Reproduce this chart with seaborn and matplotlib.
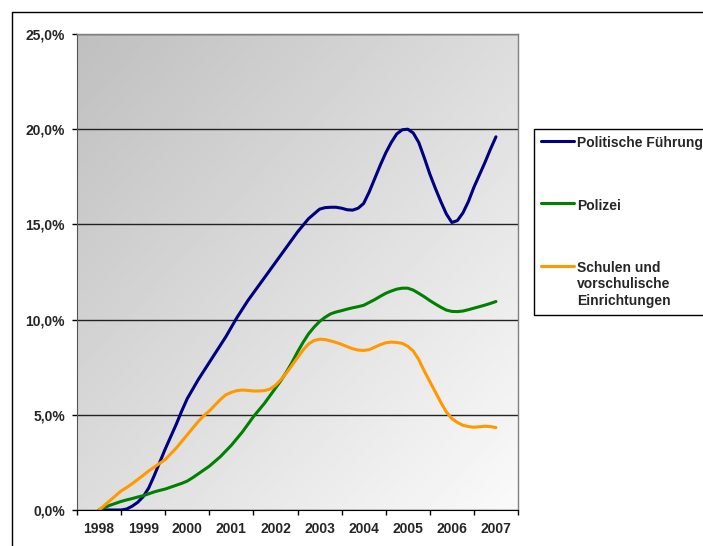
import numpy as np
import pandas as pd
import matplotlib
matplotlib.use("Agg")
import matplotlib.pyplot as plt
from matplotlib.lines import Line2D
from matplotlib.ticker import FixedLocator, FuncFormatter, NullFormatter
import seaborn as sns

# readings every 1/8 year, 1998.000 ... 2007.000 (share in %)
steps = np.arange(1998, 2007.001, 0.125)
year_labels = ["1998", "1999", "2000", "2001", "2002",
               "2003", "2004", "2005", "2006", "2007"]

politische_fuehrung = [
    0.0, 0.0, 0.0, 0.0, 0.0, 0.05, 0.2, 0.4,            # 1998
    0.7, 1.15, 1.8, 2.5, 3.2, 3.85, 4.5, 5.2,           # 1999
    5.85, 6.35, 6.85, 7.3, 7.75, 8.2, 8.65, 9.1,        # 2000
    9.6, 10.1, 10.55, 11.0, 11.4, 11.8, 12.2, 12.6,     # 2001
    13.0, 13.4, 13.8, 14.2, 14.6, 14.95, 15.3, 15.55,   # 2002
    15.8, 15.88, 15.9, 15.9, 15.85, 15.77, 15.75, 15.85,  # 2003
    16.1, 16.7, 17.4, 18.1, 18.75, 19.3, 19.75, 19.97,  # 2004
    20.0, 19.8, 19.3, 18.5, 17.65, 16.9, 16.2, 15.55,   # 2005
    15.1, 15.2, 15.6, 16.2, 16.95, 17.6, 18.25, 18.95,  # 2006
    19.6]
polizei = [
    0.0, 0.13, 0.25, 0.35, 0.45, 0.53, 0.6, 0.68,
    0.75, 0.85, 0.95, 1.03, 1.1, 1.2, 1.3, 1.4,
    1.52, 1.7, 1.9, 2.1, 2.3, 2.55, 2.8, 3.1,
    3.4, 3.75, 4.1, 4.5, 4.9, 5.25, 5.6, 6.0,
    6.4, 6.8, 7.25, 7.75, 8.3, 8.8, 9.25, 9.6,
    9.9, 10.12, 10.3, 10.4, 10.47, 10.55, 10.62, 10.68,
    10.75, 10.9, 11.05, 11.22, 11.38, 11.5, 11.6, 11.65,
    11.65, 11.55, 11.38, 11.2, 11.0, 10.82, 10.65, 10.5,
    10.43, 10.42, 10.45, 10.52, 10.6, 10.68, 10.76, 10.85,
    10.95]
schulen = [
    0.0, 0.25, 0.5, 0.75, 1.0, 1.18, 1.38, 1.6,
    1.82, 2.05, 2.25, 2.45, 2.65, 2.95, 3.25, 3.6,
    3.95, 4.3, 4.65, 4.95, 5.2, 5.5, 5.8, 6.05,
    6.18, 6.27, 6.3, 6.28, 6.25, 6.25, 6.27, 6.35,
    6.55, 6.85, 7.2, 7.6, 8.0, 8.4, 8.72, 8.9,
    8.97, 8.95, 8.88, 8.8, 8.7, 8.58, 8.47, 8.4,
    8.38, 8.42, 8.55, 8.68, 8.78, 8.82, 8.8, 8.75,
    8.6, 8.35, 7.9, 7.3, 6.75, 6.2, 5.65, 5.15,
    4.8, 4.6, 4.45, 4.38, 4.35, 4.37, 4.4, 4.38,
    4.33]

series_names = ["Politische Führung", "Polizei",
                "Schulen und\nvorschulische\nEinrichtungen"]
series_colors = ["#000080", "#008000", "#FF9900"]

df = pd.concat([
    pd.DataFrame({"Jahr": steps, "Anteil": vals, "Bereich": name})
    for name, vals in zip(series_names, [politische_fuehrung, polizei, schulen])
])

sns.set_style("white")
plt.rcParams["font.family"] = ["Liberation Sans", "DejaVu Sans"]
plt.rcParams["font.weight"] = "bold"

fig = plt.figure(figsize=(7.03, 5.46), dpi=100)
ax = fig.add_axes([77 / 703, 1 - 510 / 546, 441 / 703, 476 / 546])

# diagonal grey gradient behind the plot area
u, v = np.meshgrid(np.linspace(0, 1, 200), np.linspace(0, 1, 200))
shade = 0.75 + 0.23 * (u + v) / 2
ax.imshow(shade, extent=[0, 1, 0, 1], transform=ax.transAxes, cmap="gray",
          vmin=0, vmax=1, aspect="auto", zorder=0, origin="upper")

sns.lineplot(data=df, x="Jahr", y="Anteil", hue="Bereich",
             palette=dict(zip(series_names, series_colors)),
             linewidth=2.2, legend=False, ax=ax, zorder=3)
for ln in ax.get_lines():
    ln.set_solid_joinstyle("round")
    ln.set_solid_capstyle("round")

ax.set_xlim(1997.5, 2007.5)
ax.set_ylim(0, 25)
ax.set_xlabel("")
ax.set_ylabel("")

# y axis
ax.set_yticks([0, 5, 10, 15, 20, 25])
ax.yaxis.set_major_formatter(FuncFormatter(lambda y, _: f"{y:.1f}".replace(".", ",") + "%"))
ax.tick_params(axis="y", direction="out", length=3.6, width=1, pad=5,
               labelsize=10, left=True, color="black")
ax.grid(axis="y", color="#222222", linewidth=1)
ax.grid(axis="x", visible=False)
ax.set_axisbelow(False)
for gl in ax.get_ygridlines():
    gl.set_zorder(2)

# x axis: ticks at category borders, labels centred between
ax.xaxis.set_major_locator(FixedLocator(np.arange(1997.5, 2008, 1.0)))
ax.xaxis.set_major_formatter(NullFormatter())
ax.xaxis.set_minor_locator(FixedLocator(np.arange(1998, 2008, 1.0)))
ax.set_xticklabels(year_labels, minor=True)
ax.tick_params(axis="x", which="major", direction="out", length=3.6,
               width=1, bottom=True, color="black")
ax.tick_params(axis="x", which="minor", length=0, pad=8.5, labelsize=10)

for side in ["top", "right"]:
    ax.spines[side].set_color("#808080")
    ax.spines[side].set_linewidth(1)
ax.spines["left"].set_color("#555555")
ax.spines["bottom"].set_color("black")
for side in ax.spines:
    ax.spines[side].set_zorder(4)

# legend, box running off the right edge like the original
handles = [Line2D([0], [0], color=c, linewidth=2.2) for c in series_colors]
leg = fig.legend(handles, series_names, loc="upper left",
                 bbox_to_anchor=(534 / 703, 1 - 330 / 546, 0.5, 201 / 546),
                 mode="expand", fontsize=10, frameon=True, fancybox=False,
                 edgecolor="black", framealpha=1, borderpad=0.5,
                 labelspacing=3.5, handlelength=2.35, handletextpad=0.25,
                 borderaxespad=0)
leg.get_frame().set_linewidth(1)
for col in leg._legend_handle_box.get_children():
    for row in col.get_children():
        row.align = "top"

# outer chart border (cut by the image edge)
fig.add_artist(Line2D([12 / 703, 12 / 703], [0, 1 - 12 / 546],
                      transform=fig.transFigure, color="black", linewidth=1))
fig.add_artist(Line2D([12 / 703, 1], [1 - 12 / 546, 1 - 12 / 546],
                      transform=fig.transFigure, color="black", linewidth=1))

fig.savefig("out.png", dpi=100)
